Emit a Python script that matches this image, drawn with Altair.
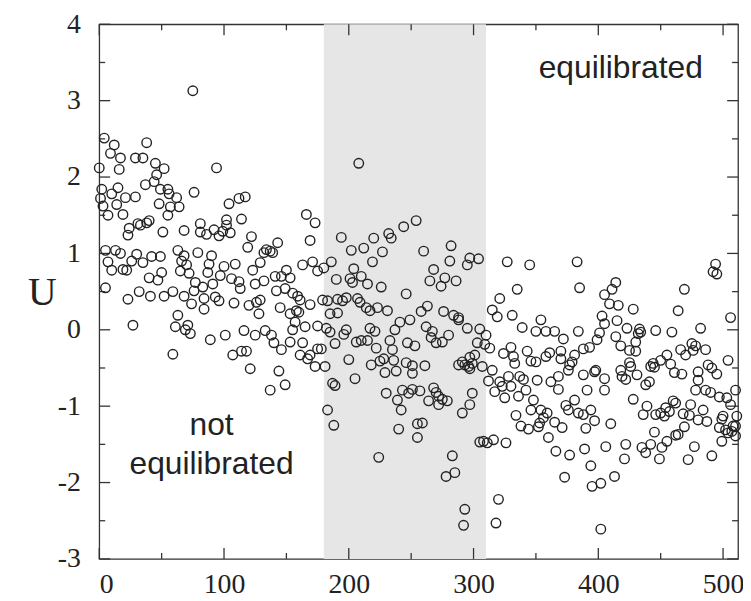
import altair as alt
import pandas as pd

# (step, U) pairs, grouped by region
seg_a = [(75,3.13),(4,2.51),(12,2.42),(9,2.31),(17,2.25),(38,2.45),(16,2.10),(29,2.25),(35,2.25),(45,2.18),(52,2.11),(0,2.12),(46,2.03),(44,1.94),(37,1.90),(2,1.84),(15,1.86),(10,1.78),(1,1.72),(3,1.62),(7,1.50),(14,1.64),(21,1.73),(29,1.74),(19,1.51),(49,1.84),(55,1.84),(56,1.78),(62,1.73),(57,1.61),(64,1.61),(48,1.65),(55,1.50),(76,1.80),(23,1.24),(24,1.33),(31,1.39),(33,1.37),(38,1.40),(40,1.43),(51,1.28),(68,1.30),(5,1.04),(13,1.04),(17,1.00),(7,0.89),(10,0.78),(19,0.79),(22,0.78),(26,0.90),(30,0.99),(35,0.88),(42,0.96),(49,0.96),(63,1.04),(68,0.97),(66,0.90),(70,0.85),(65,0.77),(72,0.74),(79,1.01),(40,0.68),(47,0.65),(50,0.75),(5,0.55),(23,0.40),(32,0.50),(41,0.44),(52,0.44),(59,0.50),(68,0.44),(76,0.51),(74,0.34),(27,0.06),(63,0.19),(61,0.04),(69,0.00),(71,0.06),(73,-0.05),(59,-0.32)]
seg_b = [(94,2.12),(104,1.65),(112,1.72),(117,1.74),(166,1.51),(173,1.40),(169,1.17),(81,1.39),(81,1.28),(86,1.25),(92,1.31),(96,1.23),(102,1.44),(102,1.37),(99,1.29),(105,1.27),(114,1.45),(122,1.22),(119,1.08),(143,1.14),(137,1.03),(132,1.01),(134,1.05),(139,1.01),(129,0.88),(90,0.97),(88,0.86),(100,0.83),(109,0.86),(87,0.75),(97,0.71),(123,0.78),(163,0.85),(171,0.89),(175,0.77),(180,0.81),(186,0.89),(150,0.78),(153,0.68),(146,0.70),(141,0.70),(190,0.66),(77,0.62),(83,0.56),(91,0.60),(106,0.67),(112,0.63),(113,0.54),(125,0.60),(132,0.64),(142,0.51),(149,0.54),(155,0.48),(159,0.44),(161,0.39),(84,0.41),(93,0.43),(96,0.38),(108,0.35),(129,0.39),(126,0.36),(120,0.32),(145,0.29),(169,0.33),(179,0.39),(191,0.40),(84,0.27),(128,0.21),(153,0.21),(158,0.25),(160,0.23),(157,0.10),(185,0.21),(191,0.22),(89,-0.13),(101,-0.07),(116,-0.01),(125,-0.07),(133,-0.01),(138,-0.07),(140,-0.17),(146,-0.26),(153,-0.16),(163,-0.17),(155,0.00),(165,0.04),(175,0.05),(182,0.02),(185,-0.03),(189,-0.18),(107,-0.33),(114,-0.28),(118,-0.28),(121,-0.51),(161,-0.33),(167,-0.38),(169,-0.33),(173,-0.48),(175,-0.25),(178,-0.25),(181,-0.48),(144,-0.54),(149,-0.72),(137,-0.79),(187,-0.70),(189,-0.73),(183,-1.05),(188,-1.25)]
seg_c = [(208,2.18),(194,1.21),(202,1.04),(212,1.07),(220,1.20),(232,1.26),(234,1.20),(244,1.35),(254,1.43),(227,1.02),(219,0.89),(260,1.03),(282,1.10),(281,0.90),(295,0.85),(297,0.94),(204,0.80),(201,0.67),(210,0.70),(203,0.62),(215,0.60),(226,0.56),(268,0.79),(265,0.64),(277,0.68),(274,0.57),(286,0.64),(246,0.47),(183,0.38),(195,0.38),(198,0.42),(207,0.41),(209,0.36),(214,0.29),(217,0.25),(223,0.29),(231,0.25),(258,0.24),(263,0.31),(276,0.24),(284,0.19),(288,0.16),(288,0.13),(241,0.10),(249,0.13),(237,0.00),(262,0.04),(267,-0.02),(266,-0.10),(280,-0.07),(270,-0.17),(275,-0.16),(295,0.02),(198,0.00),(196,-0.06),(217,0.02),(221,-0.02),(206,-0.16),(210,-0.14),(215,-0.14),(222,-0.24),(233,-0.14),(235,-0.26),(247,-0.17),(253,-0.21),(200,-0.39),(218,-0.46),(225,-0.41),(228,-0.38),(236,-0.40),(246,-0.43),(251,-0.47),(261,-0.47),(288,-0.46),(291,-0.42),(297,-0.36)]
seg_d = [(205,-0.64),(229,-0.56),(238,-0.54),(251,-0.57),(230,-0.83),(239,-0.92),(242,-1.05),(243,-0.79),(248,-0.83),(251,-0.78),(257,-0.80),(264,-0.93),(268,-0.76),(270,-0.82),(272,-0.87),(272,-0.98),(275,-0.91),(279,-0.93),(240,-1.30),(255,-1.23),(259,-1.22),(255,-1.41),(224,-1.67),(283,-1.65),(285,-1.87),(278,-1.92),(291,-1.09),(299,-0.83),(297,-0.98),(293,-2.35),(292,-2.56),(297,-0.51)]
seg_e = [(304,0.93),(327,0.89),(345,0.85),(383,0.89),(335,0.53),(385,0.55),(405,0.46),(321,0.41),(315,0.26),(319,0.17),(331,0.19),(354,0.13),(339,0.03),(350,-0.02),(358,-0.02),(365,-0.02),(372,-0.12),(384,-0.02),(399,-0.13),(401,-0.04),(403,0.18),(305,0.01),(310,-0.07),(303,-0.17),(309,-0.19),(313,-0.24),(330,-0.23),(324,-0.31),(332,-0.35),(333,-0.44),(343,-0.28),(346,-0.41),(350,-0.42),(358,-0.35),(361,-0.30),(370,-0.28),(370,-0.38),(381,-0.33),(379,-0.42),(377,-0.46),(376,-0.53),(388,-0.25),(393,-0.23),(301,-0.33),(299,-0.44),(293,-0.46),(296,-0.48),(307,-0.48),(315,-0.53),(312,-0.67),(321,-0.68),(323,-0.74),(328,-0.61),(330,-0.74),(337,-0.61),(340,-0.65),(342,-0.79),(351,-0.66),(362,-0.68),(368,-0.61),(368,-0.78),(388,-0.59),(397,-0.55),(398,-0.53),(391,-0.79),(405,-0.64),(405,-0.79),(317,-0.81),(325,-0.89),(336,-0.87),(348,-0.92),(381,-0.92)]
seg_f = [(346,-1.05),(354,-1.05),(359,-1.09),(356,-1.15),(353,-1.22),(365,-1.21),(334,-1.12),(338,-1.26),(344,-1.30),(352,-1.27),(360,-1.41),(371,-1.28),(374,-0.99),(376,-1.05),(384,-1.09),(388,-1.11),(394,-1.05),(397,-1.19),(390,-1.29),(305,-1.47),(308,-1.46),(311,-1.48),(316,-1.44),(326,-1.48),(366,-1.59),(377,-1.64),(389,-1.56),(394,-1.78),(373,-1.93),(395,-2.05),(402,-2.01),(406,-1.53),(320,-2.22),(318,-2.53),(402,-2.61)]
seg_g = [(494,0.86),(492,0.76),(495,0.73),(414,0.62),(411,0.53),(409,0.34),(416,0.32),(469,0.53),(428,0.27),(464,0.25),(506,0.16),(405,0.08),(415,0.12),(423,0.02),(433,0.01),(434,-0.03),(432,-0.05),(446,-0.01),(459,-0.03),(482,0.02),(414,-0.09),(418,-0.21),(425,-0.27),(430,-0.28),(430,-0.16),(466,-0.26),(470,-0.33),(475,-0.18),(478,-0.21),(486,-0.26),(476,-0.27),(455,-0.33),(458,-0.45),(461,-0.56),(467,-0.58),(450,-0.40),(444,-0.44),(442,-0.48),(445,-0.49),(425,-0.43),(426,-0.48),(418,-0.53),(422,-0.65),(419,-0.61),(431,-0.59),(441,-0.68),(438,-0.72),(488,-0.46),(491,-0.50),(495,-0.58),(480,-0.55),(480,-0.66),(478,-0.79),(486,-0.79),(490,-0.82),(504,-0.40),(510,-0.79),(497,-0.88),(503,-0.89),(428,-0.91),(460,-0.93)]
seg_h = [(439,-1.00),(436,-1.11),(446,-1.11),(450,-1.09),(453,-1.13),(454,-1.02),(457,-1.07),(462,-0.96),(468,-1.10),(474,-0.98),(473,-1.12),(480,-1.18),(484,-1.05),(487,-1.20),(499,-1.17),(500,-1.13),(497,-1.28),(502,-1.31),(506,-0.98),(507,-1.33),(510,-1.39),(511,-1.13),(510,-1.26),(508,-1.26),(499,-1.46),(504,-1.35),(410,-1.23),(445,-1.34),(442,-1.50),(435,-1.54),(438,-1.61),(422,-1.50),(421,-1.69),(449,-1.69),(451,-1.54),(455,-1.46),(462,-1.38),(464,-1.37),(469,-1.27),(477,-1.53),(472,-1.70),(491,-1.65),(413,-1.92)]

band_start = [180]
band_end = [310]
x_major = [0, 100, 200, 300, 400, 500]
x_minor = [50, 150, 250, 350, 450]
y_major = [-3, -2, -1, 0, 1, 2, 3, 4]
y_minor = [-2.5, -1.5, -0.5, 0.5, 1.5, 2.5, 3.5]
notes_text = ["equilibrated", "not", "equilibrated"]
notes_x = [418, 90, 90]
notes_y = [3.3, -1.38, -1.89]

W, H = 644, 539
INK = "#222222"
AX = "#333333"

pts = seg_a + seg_b + seg_c + seg_d + seg_e + seg_f + seg_g + seg_h
df = pd.DataFrame(pts, columns=["x", "y"])

xs = alt.Scale(domain=[0, 512], nice=False, zero=False)
ys = alt.Scale(domain=[-3, 4], nice=False, zero=False)

lab = "datum.value < 0 ? '-' + abs(datum.value) : '' + datum.value"
xaxis = alt.Axis(values=x_major, title=None, grid=False, domain=False, ticks=False,
                 labelFont="Liberation Serif", labelFontSize=28, labelColor=INK,
                 labelPadding=12, labelExpr=lab)
yaxis = alt.Axis(values=y_major, title="U", grid=False, domain=False, ticks=False,
                 labelFont="Liberation Serif", labelFontSize=28, labelColor=INK,
                 labelPadding=19, labelExpr=lab,
                 titleFont="Liberation Serif", titleFontSize=40, titleFontWeight="normal",
                 titleColor=INK, titleAngle=0, titleX=-58, titleY=270,
                 titleAlign="center", titleBaseline="middle")

band = alt.Chart(pd.DataFrame({"x": band_start, "x2": band_end})).mark_rect(
    color="#e6e6e6").encode(
    x=alt.X("x:Q", scale=xs, axis=xaxis), x2="x2:Q",
    y=alt.value(0), y2=alt.value(H))

points = alt.Chart(df).mark_point(
    shape="circle", filled=False, size=92, stroke=INK, strokeWidth=1.4, opacity=1).encode(
    x=alt.X("x:Q", scale=xs, axis=xaxis),
    y=alt.Y("y:Q", scale=ys, axis=yaxis))

def xticks(vals, length):
    d = pd.DataFrame({"x": vals})
    bot = alt.Chart(d).mark_rule(color=AX, strokeWidth=1.3).encode(
        x=alt.X("x:Q", scale=xs, axis=xaxis), y=alt.value(H), y2=alt.value(H - length))
    top = alt.Chart(d).mark_rule(color=AX, strokeWidth=1.3).encode(
        x=alt.X("x:Q", scale=xs, axis=xaxis), y=alt.value(0), y2=alt.value(length))
    return [bot, top]

def yticks(vals, length):
    d = pd.DataFrame({"y": vals})
    left = alt.Chart(d).mark_rule(color=AX, strokeWidth=1.3).encode(
        y=alt.Y("y:Q", scale=ys, axis=yaxis), x=alt.value(0), x2=alt.value(length))
    right = alt.Chart(d).mark_rule(color=AX, strokeWidth=1.3).encode(
        y=alt.Y("y:Q", scale=ys, axis=yaxis), x=alt.value(W), x2=alt.value(W - length))
    return [left, right]

notes = alt.Chart(pd.DataFrame({"x": notes_x, "y": notes_y, "t": notes_text})).mark_text(
    font="Liberation Sans", fontSize=32, color=INK, align="center", baseline="alphabetic").encode(
    x=alt.X("x:Q", scale=xs, axis=xaxis), y=alt.Y("y:Q", scale=ys, axis=yaxis), text="t:N")

layers = [band] + xticks(x_major, 11) + xticks(x_minor, 6) + yticks(y_major, 11) + yticks(y_minor, 6) + [points, notes]

chart = alt.layer(*layers).properties(
    width=W, height=H,
    autosize=alt.AutoSizeParams(type="none"),
    padding={"left": 92, "top": 14, "right": 5, "bottom": 42},
    background="white",
).configure_view(stroke=AX, strokeWidth=1.3)

chart.save("out.html", embed_options={"renderer": "svg", "actions": False})
